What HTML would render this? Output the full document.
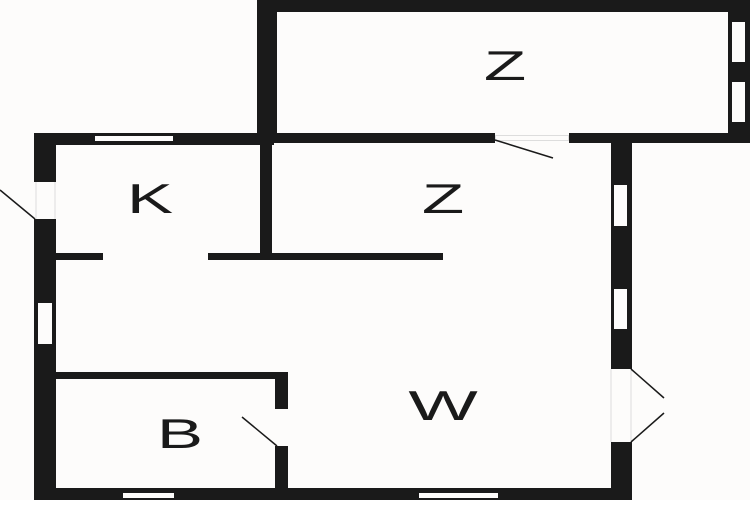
<!DOCTYPE html><html><head><style>body{margin:0;background:#fff}</style></head><body>
<svg width="750" height="500" viewBox="0 0 750 500" xmlns="http://www.w3.org/2000/svg">
<rect width="750" height="500" fill="#fdfcfb"/>
<g fill="#1a1a1a">
<rect x="257" y="0" width="493" height="12"/>
<rect x="257" y="0" width="20" height="143"/>
<rect x="728" y="0" width="22" height="143"/>
<rect x="257" y="133" width="238" height="10"/>
<rect x="569" y="133" width="181" height="10"/>
<rect x="34" y="133" width="240" height="12"/>
<rect x="34" y="133" width="22" height="367"/>
<rect x="34" y="488" width="598" height="12"/>
<rect x="611" y="133" width="21" height="367"/>
<rect x="260" y="140" width="12" height="120"/>
<rect x="55" y="253" width="48" height="7"/>
<rect x="208" y="253" width="235" height="7"/>
<rect x="55" y="372" width="233" height="7"/>
<rect x="275" y="372" width="13" height="116"/>
</g>
<g fill="#fdfcfb">
<rect x="732" y="22" width="13" height="40"/>
<rect x="732" y="82" width="13" height="40"/>
<rect x="495" y="135" width="74" height="6"/>
<rect x="95" y="136" width="78" height="5"/>
<rect x="34" y="182" width="22" height="37"/>
<rect x="38" y="303" width="14" height="41"/>
<rect x="614" y="185" width="13" height="41"/>
<rect x="614" y="289" width="13" height="40"/>
<rect x="609" y="369" width="25" height="73"/>
<rect x="274" y="409" width="15" height="37"/>
<rect x="123" y="493" width="51" height="5"/>
<rect x="419" y="493" width="79" height="5"/>
</g>
<g stroke="#ddd" stroke-width="1" fill="none">
<rect x="495.5" y="135.5" width="73" height="5"/>
<line x1="611" y1="369" x2="611" y2="442"/>
<line x1="631" y1="369" x2="631" y2="442"/>
<line x1="36" y1="182" x2="36" y2="219"/>
<line x1="55" y1="182" x2="55" y2="219"/>
</g>
<g stroke="#1a1a1a" stroke-width="1.5" fill="none">
<line x1="495" y1="140" x2="553" y2="158"/>
<line x1="0" y1="190" x2="35" y2="219"/>
<line x1="631" y1="369" x2="664" y2="398"/>
<line x1="631" y1="442" x2="664" y2="413"/>
<line x1="242" y1="417" x2="277" y2="446"/>
</g>
<g font-family="Liberation Sans, sans-serif" font-size="42" fill="#1a1a1a" text-anchor="middle">
<text transform="translate(505,80) scale(1.65,1)">Z</text>
<text transform="translate(443,213) scale(1.65,1)">Z</text>
<text transform="translate(150,213) scale(1.65,1)">K</text>
<text transform="translate(180,448) scale(1.65,1)">B</text>
<text transform="translate(443,420) scale(1.75,1)">W</text>
</g>
</svg>
</body></html>
